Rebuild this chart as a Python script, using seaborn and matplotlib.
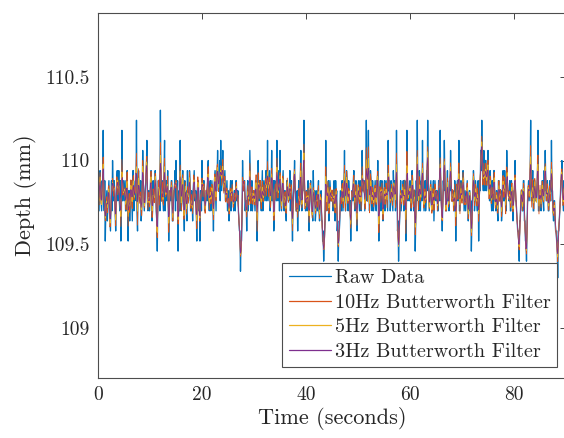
import numpy as np
import pandas as pd
import matplotlib
matplotlib.use("Agg")
import matplotlib.pyplot as plt
from matplotlib.lines import Line2D
import seaborn as sns

# ---- data -------------------------------------------------------------
SAMPLE_DT = 0.1  # seconds between stored depth samples

raw_depth = [
    # 0 - 5 s
    109.82, 109.76, 109.70, 109.88, 109.94, 109.82, 109.76, 109.70, 109.88, 109.82,
    110.18, 109.76, 109.70, 109.88, 109.52, 109.70, 109.76, 109.82, 109.64, 109.76,
    109.82, 109.88, 109.70, 109.64, 109.58, 109.76, 109.88, 109.70, 110.00, 109.82,
    109.76, 109.88, 109.82, 109.70, 109.58, 109.76, 109.88, 109.94, 109.76, 109.82,
    109.94, 109.76, 109.70, 109.88, 109.52, 109.70, 110.18, 109.76, 109.82, 109.88,
    # 5 - 10 s
    109.76, 109.82, 109.88, 109.70, 109.70, 109.88, 109.94, 109.76, 109.52, 109.82,
    109.82, 109.64, 109.76, 109.88, 109.88, 109.76, 109.64, 109.94, 109.94, 109.70,
    109.82, 109.82, 109.88, 109.76, 110.24, 109.70, 109.58, 109.88, 109.94, 109.82,
    109.76, 109.76, 109.88, 109.64, 109.70, 109.82, 110.06, 109.88, 109.82, 109.70,
    109.76, 109.82, 109.88, 109.94, 110.12, 109.76, 109.70, 109.82, 109.82, 109.70,
    # 10 - 15 s
    109.76, 109.88, 109.94, 109.82, 109.64, 109.70, 109.88, 109.76, 109.76, 109.82,
    109.94, 109.88, 109.70, 109.64, 109.46, 109.76, 109.88, 109.82, 109.82, 109.70,
    110.30, 109.88, 109.76, 109.82, 109.88, 109.76, 109.70, 109.94, 110.12, 109.70,
    109.82, 109.88, 109.76, 109.82, 109.94, 109.76, 109.52, 109.70, 109.82, 109.82,
    109.76, 109.88, 109.88, 109.64, 109.64, 109.76, 109.82, 109.82, 109.94, 109.70,
    # 15 - 20 s
    110.00, 109.82, 109.76, 109.88, 109.46, 109.76, 109.82, 109.70, 110.12, 109.82,
    109.70, 109.76, 109.88, 109.94, 109.76, 109.70, 109.58, 109.88, 109.82, 109.82,
    109.70, 109.64, 109.94, 109.76, 109.76, 109.82, 109.94, 109.88, 109.70, 109.70,
    109.82, 109.76, 109.64, 109.82, 109.88, 109.94, 109.76, 109.76, 109.82, 109.70,
    109.52, 109.82, 109.88, 109.88, 109.70, 109.76, 109.52, 109.82, 109.82, 109.70,
    # 20 - 25 s
    110.00, 109.82, 109.76, 109.88, 109.88, 109.70, 109.70, 109.76, 109.82, 109.82,
    109.76, 109.94, 110.00, 109.76, 109.70, 109.82, 109.88, 109.70, 109.76, 109.88,
    109.82, 109.76, 109.58, 109.82, 109.88, 109.94, 109.82, 109.70, 109.94, 109.88,
    110.06, 109.82, 109.82, 109.88, 110.00, 109.76, 110.12, 109.82, 109.88, 109.94,
    110.06, 109.82, 109.82, 109.88, 109.94, 109.76, 109.76, 109.82, 109.88, 109.70,
    # 25 - 30 s
    109.76, 109.82, 109.64, 109.70, 109.82, 109.88, 109.70, 109.82, 109.88, 109.76,
    109.76, 109.70, 109.82, 109.82, 109.70, 109.88, 109.88, 109.76, 109.76, 109.82,
    109.70, 109.64, 109.58, 109.58, 109.34, 109.52, 109.52, 109.64, 110.00, 109.82,
    109.82, 109.88, 109.88, 109.70, 109.76, 109.76, 109.58, 109.82, 109.88, 109.70,
    109.82, 109.76, 110.06, 109.88, 109.70, 109.82, 109.88, 109.70, 109.76, 109.82,
    # 30 - 35 s
    109.82, 109.76, 109.70, 109.88, 109.88, 109.82, 109.52, 109.70, 110.00, 109.82,
    109.76, 109.88, 109.88, 109.76, 109.70, 109.82, 109.94, 109.70, 109.76, 109.88,
    109.82, 109.76, 109.88, 109.94, 109.76, 109.82, 110.12, 109.76, 109.82, 109.88,
    109.94, 109.70, 109.76, 109.82, 110.06, 109.76, 109.82, 109.88, 109.58, 109.64,
    109.88, 109.82, 109.82, 109.76, 110.12, 109.88, 109.76, 109.82, 109.94, 109.70,
    # 35 - 40 s
    110.06, 109.82, 109.76, 109.70, 109.82, 109.88, 109.94, 109.76, 109.70, 109.82,
    109.82, 109.70, 109.64, 109.88, 109.88, 109.82, 109.76, 109.76, 109.82, 109.94,
    109.70, 109.82, 109.88, 109.70, 109.52, 109.76, 109.82, 109.88, 110.00, 109.82,
    109.76, 109.70, 109.70, 109.82, 109.58, 109.76, 109.88, 109.70, 109.76, 109.88,
    110.06, 109.76, 109.70, 109.82, 109.82, 109.88, 110.24, 109.82, 109.76, 109.70,
    # 40 - 45 s
    109.82, 109.82, 109.70, 109.76, 109.88, 109.70, 109.58, 109.82, 109.82, 109.88,
    109.76, 109.70, 109.70, 109.64, 109.94, 109.76, 109.76, 109.82, 109.64, 109.70,
    109.82, 109.76, 109.70, 109.82, 109.88, 109.70, 109.64, 109.76, 109.76, 109.82,
    109.64, 109.64, 109.52, 109.58, 109.40, 109.52, 109.58, 109.64, 110.12, 109.76,
    109.70, 109.82, 109.82, 109.88, 109.64, 109.70, 109.88, 109.82, 109.76, 109.76,
    # 45 - 50 s
    109.82, 109.82, 109.70, 109.76, 109.88, 109.70, 109.64, 109.88, 109.76, 109.82,
    109.58, 109.64, 109.40, 109.58, 109.58, 109.64, 109.82, 109.76, 109.70, 109.88,
    109.88, 109.70, 109.76, 109.82, 110.06, 109.76, 109.70, 109.82, 109.94, 109.88,
    109.76, 109.70, 109.88, 109.82, 109.70, 109.76, 109.52, 109.70, 109.82, 109.82,
    109.76, 109.88, 109.94, 109.76, 109.70, 109.82, 109.88, 109.70, 109.58, 109.76,
    # 50 - 55 s
    109.82, 109.88, 109.76, 109.70, 109.88, 109.82, 109.70, 109.76, 110.06, 109.82,
    109.82, 109.88, 109.88, 109.70, 109.76, 109.82, 110.24, 109.76, 109.82, 109.88,
    110.18, 109.82, 109.70, 109.76, 109.94, 109.88, 109.76, 109.70, 109.88, 109.82,
    109.70, 109.76, 109.82, 109.88, 109.76, 109.70, 109.88, 109.82, 110.00, 109.76,
    109.52, 109.70, 109.82, 109.88, 109.70, 109.82, 109.88, 109.76, 109.64, 109.70,
    # 55 - 60 s
    109.82, 109.88, 109.70, 109.76, 109.88, 109.82, 109.76, 109.70, 110.12, 109.82,
    109.82, 109.88, 109.70, 109.76, 109.88, 109.82, 109.76, 109.70, 109.94, 109.82,
    109.82, 109.88, 109.70, 109.76, 110.18, 109.82, 109.58, 109.64, 109.40, 109.58,
    109.64, 109.76, 109.88, 109.70, 109.76, 109.82, 109.82, 109.88, 109.70, 109.76,
    109.88, 109.82, 109.52, 109.70, 110.18, 109.88, 109.76, 109.82, 109.82, 109.76,
    # 60 - 65 s
    109.88, 109.82, 109.70, 109.76, 109.94, 109.88, 109.76, 109.70, 109.82, 109.82,
    109.46, 109.64, 109.88, 109.76, 110.24, 109.82, 109.76, 109.70, 109.94, 109.88,
    109.70, 109.82, 109.88, 109.76, 110.12, 109.82, 109.76, 109.70, 109.82, 109.88,
    109.70, 109.76, 109.94, 109.82, 110.24, 109.88, 109.82, 109.70, 109.76, 109.82,
    109.88, 109.76, 109.70, 109.70, 109.82, 109.88, 109.64, 109.76, 109.88, 109.82,
    # 65 - 70 s
    109.76, 109.82, 109.82, 109.70, 109.70, 109.88, 109.88, 109.76, 110.18, 109.82,
    109.76, 109.70, 109.58, 109.76, 109.88, 109.82, 110.12, 109.88, 109.82, 109.70,
    109.70, 109.82, 109.94, 109.76, 109.76, 109.70, 109.88, 109.82, 110.06, 109.88,
    109.76, 109.76, 109.82, 109.82, 109.70, 109.70, 109.88, 109.82, 109.52, 109.76,
    109.82, 109.88, 109.76, 109.82, 110.12, 109.70, 109.70, 109.82, 109.88, 109.76,
    # 70 - 75 s
    109.76, 109.82, 109.94, 109.88, 109.70, 109.76, 109.82, 109.70, 109.76, 109.82,
    109.88, 109.76, 109.64, 109.70, 109.82, 109.82, 109.70, 109.76, 109.46, 109.64,
    109.76, 109.82, 109.94, 109.88, 109.70, 109.76, 109.88, 109.82, 109.76, 109.70,
    109.82, 109.88, 109.52, 109.76, 109.88, 109.82, 110.06, 109.94, 110.24, 110.00,
    109.88, 109.82, 110.06, 109.88, 109.82, 110.00, 110.00, 109.82, 109.88, 109.94,
    # 75 - 80 s
    110.06, 109.82, 109.82, 109.76, 109.94, 109.88, 109.76, 109.70, 109.88, 109.82,
    109.70, 109.94, 109.94, 109.76, 109.76, 109.70, 109.82, 109.82, 109.70, 109.64,
    109.88, 109.88, 109.76, 109.76, 109.82, 109.82, 109.64, 109.70, 109.88, 109.94,
    109.76, 109.76, 109.94, 109.82, 109.70, 109.70, 110.06, 109.88, 109.82, 109.82,
    109.76, 109.76, 109.88, 109.70, 109.70, 109.88, 109.82, 109.82, 109.64, 109.76,
    # 80 - 85 s
    109.82, 109.82, 110.00, 109.76, 109.76, 109.70, 109.64, 109.58, 109.58, 109.52,
    109.40, 109.64, 109.64, 109.76, 109.82, 109.82, 109.70, 109.70, 109.88, 109.88,
    109.64, 109.64, 109.52, 109.52, 109.40, 109.58, 109.76, 109.82, 109.88, 109.76,
    109.82, 109.88, 110.24, 109.76, 109.76, 109.82, 109.94, 109.70, 109.70, 109.88,
    109.88, 109.82, 109.76, 109.76, 109.82, 109.88, 110.18, 109.70, 109.70, 109.82,
    # 85 - 90 s
    109.82, 109.82, 109.70, 109.76, 109.88, 109.88, 109.76, 109.70, 109.94, 109.82,
    110.06, 109.88, 109.76, 109.76, 109.88, 109.82, 109.70, 109.70, 109.82, 109.88,
    109.76, 109.76, 110.12, 109.82, 109.82, 109.70, 109.64, 109.76, 109.76, 109.64,
    109.58, 109.58, 109.52, 109.52, 109.30, 109.58, 109.58, 109.64, 109.70, 109.76,
    109.88, 109.88, 110.00, 109.82, 109.76, 109.70, 109.88, 109.82, 109.82, 109.76,
]

raw_label = "Raw Data"
filter_labels = ["10Hz Butterworth Filter", "5Hz Butterworth Filter", "3Hz Butterworth Filter"]
filter_cutoff = [0.62, 0.48, 0.38]  # cutoff as a fraction of the Nyquist rate
series_colors = ["#0072BD", "#D95319", "#EDB120", "#7E2F8E"]

x_ticks = [0, 20, 40, 60, 80]
y_ticks = [109, 109.5, 110, 110.5]
y_tick_labels = ["109", "109.5", "110", "110.5"]


# ---- zero-phase 2nd-order Butterworth low-pass --------------------------
def butter2_lowpass(signal, wn):
    k = np.tan(np.pi * wn / 2.0)
    q = np.sqrt(2.0)
    norm = 1.0 / (1.0 + q * k + k * k)
    b0 = k * k * norm
    b1 = 2.0 * b0
    b2 = b0
    a1 = 2.0 * (k * k - 1.0) * norm
    a2 = (1.0 - q * k + k * k) * norm

    def run(sig):
        out = np.empty_like(sig)
        x1 = x2 = y1 = y2 = sig[0]
        for i, v in enumerate(sig):
            y = b0 * v + b1 * x1 + b2 * x2 - a1 * y1 - a2 * y2
            x2, x1 = x1, v
            y2, y1 = y1, y
            out[i] = y
        return out

    fwd = run(np.asarray(signal, dtype=float))
    return run(fwd[::-1])[::-1]


raw = np.asarray(raw_depth, dtype=float)
time_s = np.arange(len(raw)) * SAMPLE_DT

frames = [pd.DataFrame({"t": time_s, "depth": raw, "series": raw_label})]
for lab, wn in zip(filter_labels, filter_cutoff):
    frames.append(pd.DataFrame({"t": time_s, "depth": butter2_lowpass(raw, wn), "series": lab}))
df = pd.concat(frames, ignore_index=True)
order = [raw_label] + filter_labels

# ---- figure -------------------------------------------------------------
sns.set_theme(style="white")
plt.rcParams["font.family"] = ["cmr10", "DejaVu Serif"]
plt.rcParams["axes.formatter.use_mathtext"] = True

fig = plt.figure(figsize=(5.64, 4.38), dpi=100)
ax = fig.add_axes([98 / 564, 60.3 / 438, 467.5 / 564, 364.4 / 438])

line_widths = {raw_label: 0.95}
for lab in filter_labels:
    line_widths[lab] = 0.6

for lab, col in zip(order, series_colors):
    sns.lineplot(data=df[df["series"] == lab], x="t", y="depth", color=col,
                 estimator=None, sort=False, linewidth=line_widths[lab], ax=ax)

ax.set_xlim(0, time_s[-1])
ax.set_ylim(108.705, 110.878)
ax.set_xticks(x_ticks)
ax.set_xticklabels([str(v) for v in x_ticks])
ax.set_yticks(y_ticks)
ax.set_yticklabels(y_tick_labels)

ink = "#262626"
ax.tick_params(direction="in", length=4, width=0.6, color=ink, labelcolor=ink,
               labelsize=14, top=True, right=True, pad=6)
for sp in ax.spines.values():
    sp.set_color("#4d4d4d")
    sp.set_linewidth(0.8)

ax.set_xlabel("Time (seconds)", fontsize=16, color=ink, labelpad=2)
ax.set_ylabel("Depth (mm)", fontsize=16, color=ink, labelpad=6)

handles = [Line2D([0], [0], color=c, lw=0.9) for c in series_colors]
leg = ax.legend(handles, order, loc="lower right", bbox_to_anchor=(0.981, 0.030),
                borderaxespad=0, fontsize=14.5, frameon=True, fancybox=False,
                framealpha=1, edgecolor="#4d4d4d", handlelength=2.1,
                handletextpad=0.2, labelspacing=0.32, borderpad=0.3)
leg.get_frame().set_linewidth(0.8)
for txt in leg.get_texts():
    txt.set_color(ink)

fig.savefig("out.png", dpi=100)
